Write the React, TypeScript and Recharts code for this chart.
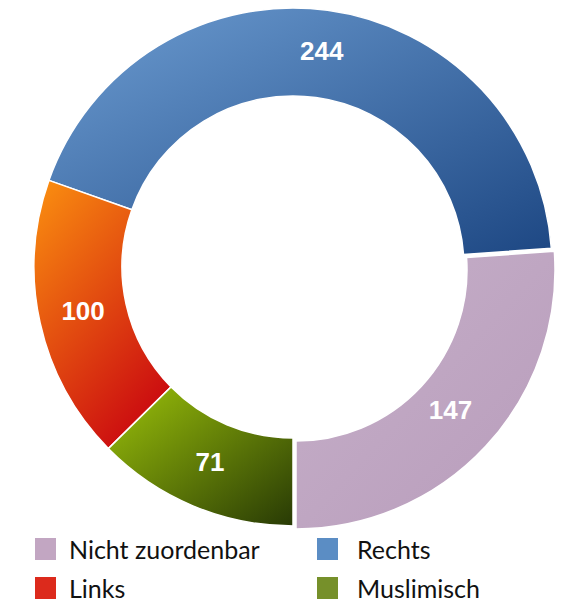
import { PieChart, Pie, Cell } from 'recharts';

const categories = ['Nicht zuordenbar', 'Rechts', 'Links', 'Muslimisch'];
const values = [147, 244, 100, 71];
const legendColors = ['#c2a6c2', '#5b8dc4', '#dc2a1c', '#76902a'];
const sliceFills = ['url(#gNicht)', 'url(#gRechts)', 'url(#gLinks)', 'url(#gMuslim)'];

const data = categories.map((name, i) => ({ name, value: values[i] }));

const RADIAN = Math.PI / 180;

interface LabelProps {
  cx: number;
  cy: number;
  midAngle: number;
  innerRadius: number;
  outerRadius: number;
  value: number;
}

function SliceLabel({ cx, cy, midAngle, innerRadius, outerRadius, value }: LabelProps) {
  const r = (innerRadius + outerRadius) / 2;
  const x = cx + r * Math.cos(-midAngle * RADIAN);
  const y = cy + r * Math.sin(-midAngle * RADIAN);
  return (
    <text
      x={x}
      y={y + 6}
      fill="#ffffff"
      textAnchor="middle"
      fontFamily="'Liberation Sans', Arial, sans-serif"
      fontWeight="bold"
      fontSize={26}
    >
      {value}
    </text>
  );
}

export default function App() {
  return (
    <div style={{ position: 'absolute', left: 0, top: 0, width: 563, height: 603, background: '#fff' }}>
      <PieChart width={563} height={535}>
        <defs>
          <linearGradient id="gRechts" x1="0" y1="0" x2="1" y2="1">
            <stop offset="0%" stopColor="#6d9dd2" />
            <stop offset="100%" stopColor="#1d4783" />
          </linearGradient>
          <linearGradient id="gLinks" x1="0" y1="0" x2="0.6" y2="1">
            <stop offset="0%" stopColor="#fb9110" />
            <stop offset="100%" stopColor="#cc0e10" />
          </linearGradient>
          <linearGradient id="gMuslim" x1="0" y1="0" x2="1" y2="1">
            <stop offset="0%" stopColor="#9cc20a" />
            <stop offset="100%" stopColor="#283a05" />
          </linearGradient>
          <linearGradient id="gNicht" x1="0" y1="0" x2="1" y2="1">
            <stop offset="0%" stopColor="#c6b0c9" />
            <stop offset="100%" stopColor="#b89cbb" />
          </linearGradient>
        </defs>
        <Pie
          data={data}
          dataKey="value"
          nameKey="name"
          cx={288}
          cy={262}
          innerRadius={171}
          outerRadius={259}
          startAngle={-90}
          endAngle={270}
          stroke="#ffffff"
          strokeWidth={1.5}
          label={SliceLabel}
          labelLine={false}
          isAnimationActive={false}
        >
          {data.map((entry, index) => (
            <Cell
              key={`cell-${entry.name}`}
              fill={sliceFills[index]}
              transform={index === 0 ? 'translate(3,3)' : undefined}
            />
          ))}
        </Pie>
      </PieChart>
      {categories.map((name, i) => (
        <div
          key={name}
          style={{
            position: 'absolute',
            left: i % 2 === 0 ? 35 : 317,
            top: i < 2 ? 538 : 577,
            display: 'flex',
            alignItems: 'center',
            fontFamily: 'Lato, sans-serif',
            fontSize: 25,
            color: '#111',
            lineHeight: '22px',
          }}
        >
          <span style={{ width: 21, height: 22, background: legendColors[i], display: 'inline-block' }} />
          <span style={{ marginLeft: i % 2 === 0 ? 13 : 19 }}>{name}</span>
        </div>
      ))}
    </div>
  );
}
